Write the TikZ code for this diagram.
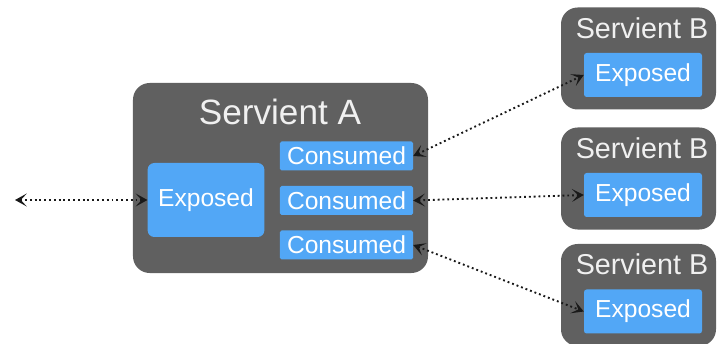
\documentclass[tikz,border=0pt]{standalone}
\usepackage{fontspec}
\setmainfont{Liberation Sans}
\usetikzlibrary{arrows, arrows.meta, positioning}

\definecolor{servgrey}{RGB}{96,96,96}
\definecolor{partblue}{RGB}{82,167,246}

\tikzset{
    servient/.style={fill=servgrey, rounded corners=0.5cm, inner sep=0pt},
    exposedbox/.style={fill=partblue, text=white, rounded corners=0.2cm, inner sep=0pt, font=\fontsize{21}{24}\selectfont},
    consumedbox/.style={fill=partblue, text=white, rounded corners=0.05cm, inner sep=0pt, font=\fontsize{21}{24}\selectfont, minimum width=3.99cm, minimum height=0.87cm},
    servtitle/.style={text=white!94!black, inner sep=0pt},
    link/.style={<->, >={Stealth[length=10pt, width=11pt, inset=5pt]}, line width=1.6pt, dash pattern=on 1.6pt off 2.5pt, black!90}
}

\begin{document}
\begin{tikzpicture}[x=0.03cm, y=-0.03cm]
    \useasboundingbox (0,0) rectangle (717,344);

    % Servient A
    \node[servient, minimum width=8.85cm, minimum height=5.7cm] (servA) at (280.5,178) {};
    \node[servtitle, font=\fontsize{30}{36}\selectfont] (titleA) at (280,112) {Servient A};
    \node[exposedbox, minimum width=3.5cm, minimum height=2.22cm] (expA) at (206,200) {Exposed};
    \node[consumedbox] (consA) at (346.5,156) {Consumed};
    \node[consumedbox] (consB) at (346.5,200.5) {Consumed};
    \node[consumedbox] (consC) at (346.5,245) {Consumed};

    % Servient B (three of them)
    \foreach \i/\y in {1/58.5, 2/178.5, 3/295}{
        \node[servient, minimum width=4.65cm, minimum height=3.06cm] (servB\i) at (638.5,\y) {};
        \node[servtitle, font=\fontsize{24.5}{29}\selectfont] (titleB\i) at (642,\y-30.5) {Servient B};
        \node[exposedbox, rounded corners=0.08cm, minimum width=3.54cm, minimum height=1.32cm] (expB\i) at (643,\y+16.5) {Exposed};
    }

    % Links
    \coordinate (outside) at (15,200);
    \draw[link] (outside) -- (expA.west);
    \draw[link] (consA.east) -- (expB1.west);
    \draw[link] (consB.east) -- (expB2.west);
    \draw[link] (consC.east) -- (expB3.west);
\end{tikzpicture}
\end{document}
